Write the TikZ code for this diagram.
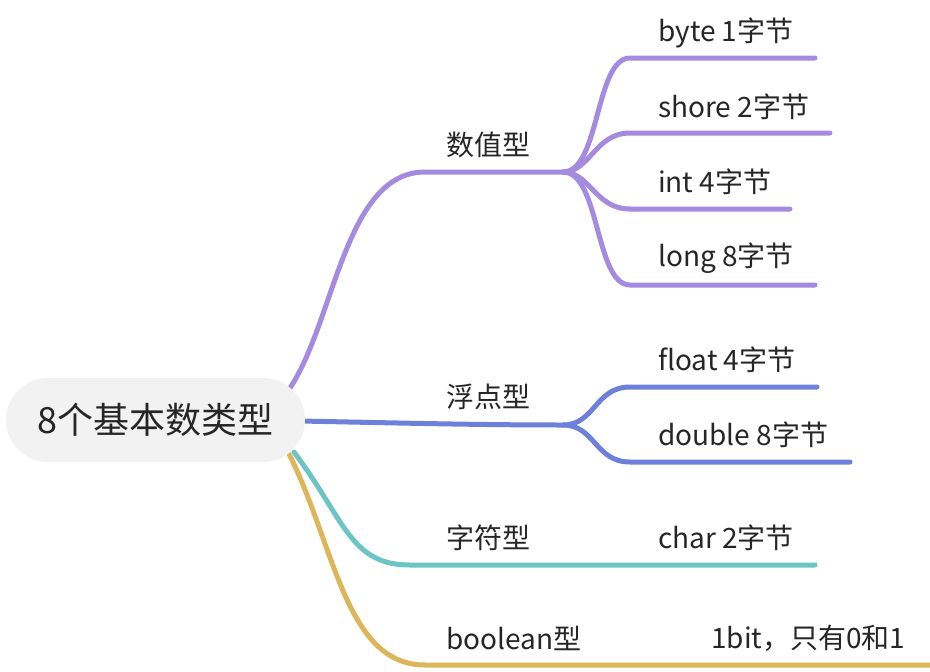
\documentclass[tikz,border=0pt]{standalone}
\usepackage{fontspec}
\setmainfont{Noto Sans CJK SC}
\begin{document}
\begin{tikzpicture}[x=1pt,y=-1pt,
  br/.style={line width=5pt,line cap=round},
  lbl/.style={anchor=west,inner sep=0pt,font=\fontsize{28}{32}\selectfont,text=black!85},
  rootbox/.style={fill=black!5,rounded corners=42pt,minimum width=299pt,minimum height=84pt,inner sep=0pt,font=\fontsize{36}{40}\selectfont,text=black!85}]
\definecolor{cpur}{HTML}{A48BE0}
\definecolor{cblu}{HTML}{6D80DA}
\definecolor{ctea}{HTML}{6CC5C4}
\definecolor{cgol}{HTML}{DDB65A}
\useasboundingbox (0,0) rectangle (930,672);
% coordinates
\coordinate (r1) at (290,388);
\coordinate (r2) at (300,421);
\coordinate (r3) at (294,452);
\coordinate (r4) at (289,454);
\coordinate (j1) at (563,172);
\coordinate (j2) at (563,425);
\coordinate (b1s) at (630,58);  \coordinate (b1e) at (815,58);
\coordinate (b2s) at (630,133); \coordinate (b2e) at (830,133);
\coordinate (b3s) at (630,209); \coordinate (b3e) at (790,209);
\coordinate (b4s) at (630,285); \coordinate (b4e) at (815,285);
\coordinate (f1s) at (630,387); \coordinate (f1e) at (817,387);
\coordinate (f2s) at (630,462); \coordinate (f2e) at (850,462);
\coordinate (ce) at (815,565);
\coordinate (be) at (930,665);
% branches
\draw[br,cpur] (r1) .. controls (335,320) and (345,172) .. (425,172) -- (j1);
\draw[br,cpur] (j1) .. controls (600,172) and (595,58) .. (b1s) -- (b1e);
\draw[br,cpur] (j1) .. controls (590,172) and (595,133) .. (b2s) -- (b2e);
\draw[br,cpur] (j1) .. controls (590,172) and (595,209) .. (b3s) -- (b3e);
\draw[br,cpur] (j1) .. controls (600,172) and (595,285) .. (b4s) -- (b4e);
\draw[br,cblu] (r2) .. controls (400,423) and (480,425) .. (j2);
\draw[br,cblu] (j2) .. controls (595,425) and (595,387) .. (f1s) -- (f1e);
\draw[br,cblu] (j2) .. controls (595,425) and (595,462) .. (f2s) -- (f2e);
\draw[br,ctea] (r3) .. controls (345,520) and (350,565) .. (410,565) -- (ce);
\draw[br,cgol] (r4) .. controls (335,545) and (345,665) .. (425,665) -- (be);
% root
\node[rootbox] (root) at (155.5,420) {8个基本数类型};
% labels
\node[lbl] (n1) at (446,145) {数值型};
\node[lbl] (n2) at (446,397) {浮点型};
\node[lbl] (n3) at (446,538) {字符型};
\node[lbl] (n4) at (446,638) {boolean型};
\node[lbl] (c1) at (658,33) {byte 1字节};
\node[lbl] (c2) at (658,107) {shore 2字节};
\node[lbl] (c3) at (658,182) {int 4字节};
\node[lbl] (c4) at (658,258) {long 8字节};
\node[lbl] (c5) at (658,360) {float 4字节};
\node[lbl] (c6) at (658,435) {double 8字节};
\node[lbl] (c7) at (658,538) {char 2字节};
\node[lbl] (c8) at (711,638) {1bit，只有0和1};
\end{tikzpicture}
\end{document}
